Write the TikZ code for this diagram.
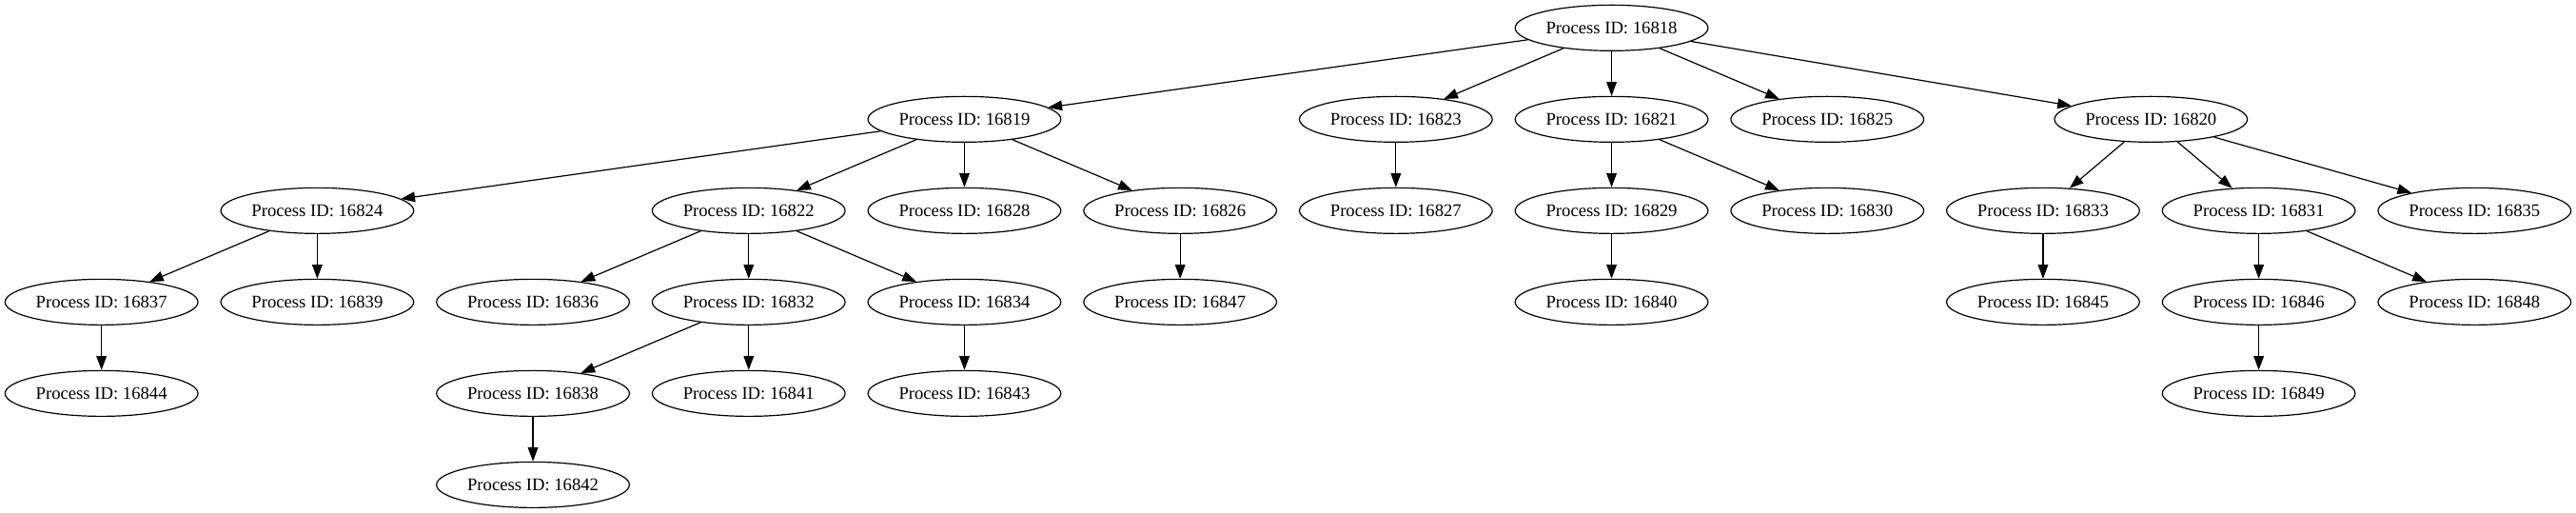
\documentclass[tikz,border=0pt]{standalone}
\usepackage{fontspec}
\setmainfont{Liberation Serif}
\usetikzlibrary{arrows.meta,shapes.geometric}
\begin{document}
\begin{tikzpicture}[x=1pt,y=-1pt,
  proc/.style={draw,ellipse,line width=0.9pt,minimum width=152pt,minimum height=36pt,inner sep=0pt,font=\fontsize{14}{16}\selectfont},
  edge/.style={line width=0.9pt,-{Triangle[length=11pt,width=8pt]}}]
\useasboundingbox (0,0) rectangle (2030,404);
% row 0
\node[proc] (n16818) at (1270,22) {Process ID: 16818};
% row 1
\node[proc] (n16819) at (760,94) {Process ID: 16819};
\node[proc] (n16823) at (1100,94) {Process ID: 16823};
\node[proc] (n16821) at (1270,94) {Process ID: 16821};
\node[proc] (n16825) at (1440,94) {Process ID: 16825};
\node[proc] (n16820) at (1695,94) {Process ID: 16820};
% row 2
\node[proc] (n16824) at (250,166) {Process ID: 16824};
\node[proc] (n16822) at (590,166) {Process ID: 16822};
\node[proc] (n16828) at (760,166) {Process ID: 16828};
\node[proc] (n16826) at (930,166) {Process ID: 16826};
\node[proc] (n16827) at (1100,166) {Process ID: 16827};
\node[proc] (n16829) at (1270,166) {Process ID: 16829};
\node[proc] (n16830) at (1440,166) {Process ID: 16830};
\node[proc] (n16833) at (1610,166) {Process ID: 16833};
\node[proc] (n16831) at (1780,166) {Process ID: 16831};
\node[proc] (n16835) at (1950,166) {Process ID: 16835};
% row 3
\node[proc] (n16837) at (80,238) {Process ID: 16837};
\node[proc] (n16839) at (250,238) {Process ID: 16839};
\node[proc] (n16836) at (420,238) {Process ID: 16836};
\node[proc] (n16832) at (590,238) {Process ID: 16832};
\node[proc] (n16834) at (760,238) {Process ID: 16834};
\node[proc] (n16847) at (930,238) {Process ID: 16847};
\node[proc] (n16840) at (1270,238) {Process ID: 16840};
\node[proc] (n16845) at (1610,238) {Process ID: 16845};
\node[proc] (n16846) at (1780,238) {Process ID: 16846};
\node[proc] (n16848) at (1950,238) {Process ID: 16848};
% row 4
\node[proc] (n16844) at (80,310) {Process ID: 16844};
\node[proc] (n16838) at (420,310) {Process ID: 16838};
\node[proc] (n16841) at (590,310) {Process ID: 16841};
\node[proc] (n16843) at (760,310) {Process ID: 16843};
\node[proc] (n16849) at (1780,310) {Process ID: 16849};
% row 5
\node[proc] (n16842) at (420,382) {Process ID: 16842};
% edges
\foreach \a/\b in {16818/16819,16818/16823,16818/16821,16818/16825,16818/16820,
  16819/16824,16819/16822,16819/16828,16819/16826,
  16824/16837,16824/16839,16837/16844,
  16822/16836,16822/16832,16822/16834,
  16832/16838,16832/16841,16838/16842,16834/16843,16826/16847,
  16823/16827,16821/16829,16821/16830,16829/16840,
  16820/16833,16820/16831,16820/16835,16833/16845,
  16831/16846,16831/16848,16846/16849}
  \draw[edge] (n\a) -- (n\b);
\end{tikzpicture}
\end{document}
